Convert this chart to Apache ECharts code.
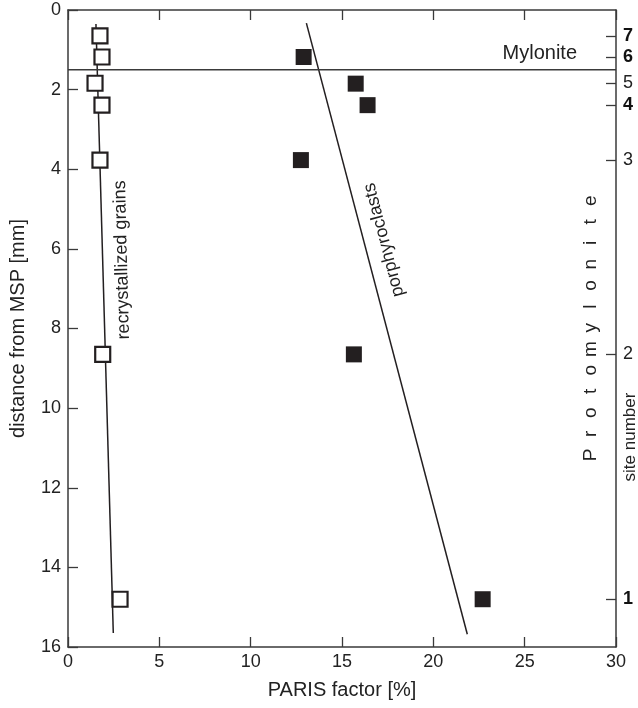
<!DOCTYPE html>
<html>
<head>
<meta charset="utf-8">
<script src="https://cdn.jsdelivr.net/npm/echarts@6/dist/echarts.min.js"></script>
<style>html,body{margin:0;padding:0;background:#fff}#c{width:638px;height:708px}</style>
</head>
<body>
<div id="c"></div>
<script>
// ---- data ----
var recrystallized = [[1.75,0.65],[1.86,1.18],[1.48,1.84],[1.86,2.39],[1.75,3.77],[1.9,8.65],[2.85,14.8]];
var porphyroclasts = [[12.9,1.18],[15.75,1.85],[16.4,2.39],[12.75,3.77],[15.65,8.65],[22.7,14.8]];
var recrystFit = [[1.53,0.35],[2.48,15.65]];
var porphFit = [[13.05,0.33],[21.86,15.68]];
var myloniteBoundary = [[0,1.5],[30,1.5]];
var siteDepths = [0.65,1.18,1.84,2.39,3.77,8.65,14.8];
var siteNumbers = ['7','6','5','4','3','2','1'];
var siteBold = [true,true,false,true,false,false,true];
var xTicks = [0,5,10,15,20,25,30];
var yTicks = [0,2,4,6,8,10,12,14,16];

var FONT = 'Liberation Sans, Arial, Helvetica, sans-serif';
var INK = '#231f20';
var AX = '#3a3a3a';

var chart = echarts.init(document.getElementById('c'));

function siteLabel(v){
  for (var i=0;i<siteDepths.length;i++){
    if (Math.abs(siteDepths[i]-v)<1e-6) return siteBold[i] ? '{b|'+siteNumbers[i]+'}' : '{n|'+siteNumbers[i]+'}';
  }
  return '';
}

function axisLineStyle(){ return {show:true, onZero:false, lineStyle:{color:AX, width:1.5}}; }
function tickStyle(){ return {show:true, inside:true, length:10, lineStyle:{color:AX, width:1.3}}; }

var option = {
  animation:false,
  backgroundColor:'#fff',
  grid:{left:68, right:22, top:10, bottom:61, containLabel:false},
  xAxis:[{
    type:'value', min:0, max:30, interval:5, position:'bottom',
    name:'PARIS factor [%]', nameLocation:'middle', nameGap:33,
    nameTextStyle:{fontFamily:FONT, fontSize:20, color:'#222'},
    axisLine:axisLineStyle(), axisTick:tickStyle(), splitLine:{show:false},
    axisLabel:{fontFamily:FONT, fontSize:18, color:'#222', margin:6}
  },{
    type:'value', min:0, max:30, interval:5, position:'top',
    axisLine:axisLineStyle(), axisTick:tickStyle(), splitLine:{show:false},
    axisLabel:{show:false}
  }],
  yAxis:[{
    type:'value', min:0, max:16, interval:2, inverse:true, position:'left',
    name:'distance from MSP [mm]', nameLocation:'middle', nameGap:40,
    nameTextStyle:{fontFamily:FONT, fontSize:20, color:'#222'},
    axisLine:axisLineStyle(), axisTick:tickStyle(), splitLine:{show:false},
    axisLabel:{fontFamily:FONT, fontSize:18, color:'#222', margin:7}
  },{
    type:'value', min:0, max:16, inverse:true, position:'right',
    axisLine:axisLineStyle(),
    axisTick:{show:true, inside:true, length:10, lineStyle:{color:AX, width:1.3}, customValues:siteDepths},
    splitLine:{show:false},
    axisLabel:{show:true, customValues:siteDepths, margin:7, formatter:siteLabel,
      rich:{b:{fontFamily:FONT, fontSize:18, fontWeight:'bold', color:'#111'},
            n:{fontFamily:FONT, fontSize:18, color:'#222'}}}
  }],
  series:[
    {type:'line', data:recrystFit, showSymbol:false, symbol:'none', lineStyle:{color:INK, width:1.5}, z:1, silent:true},
    {type:'line', data:porphFit, showSymbol:false, symbol:'none', lineStyle:{color:INK, width:1.5}, z:1, silent:true},
    {type:'line', data:myloniteBoundary, showSymbol:false, symbol:'none', lineStyle:{color:AX, width:1.5}, z:1, silent:true},
    {type:'scatter', data:recrystallized, symbol:'rect', symbolSize:15,
     itemStyle:{color:'#fff', borderColor:INK, borderWidth:2.2, opacity:1}, z:5},
    {type:'scatter', data:porphyroclasts, symbol:'rect', symbolSize:16,
     itemStyle:{color:INK, opacity:1}, z:5}
  ]
};
chart.setOption(option);

// ---- annotations ----
var g = [];
g.push({type:'text', x:577, y:53, style:{text:'Mylonite', font:'20px '+FONT, fill:'#222', textAlign:'right', textVerticalAlign:'middle'}});
g.push({type:'text', x:122, y:260, rotation:Math.PI/2 + 0.026, style:{text:'recrystallized grains', font:'18px '+FONT, fill:'#222', textAlign:'center', textVerticalAlign:'middle'}});
g.push({type:'text', x:384, y:240, rotation:(104.7)*Math.PI/180, style:{text:'porphyroclasts', font:'18px '+FONT, fill:'#222', textAlign:'center', textVerticalAlign:'middle'}});
var letters = 'Protomylonite'.split('');
for (var i=0;i<letters.length;i++){
  g.push({type:'text', x:591, y:455 - i*21.2, rotation:Math.PI/2, style:{text:letters[i], font:'19px '+FONT, fill:'#222', textAlign:'center', textVerticalAlign:'middle'}});
}
g.push({type:'text', x:630, y:437, rotation:Math.PI/2, style:{text:'site number', font:'17px '+FONT, fill:'#222', textAlign:'center', textVerticalAlign:'middle'}});
chart.setOption({graphic:g});
</script>
</body>
</html>
